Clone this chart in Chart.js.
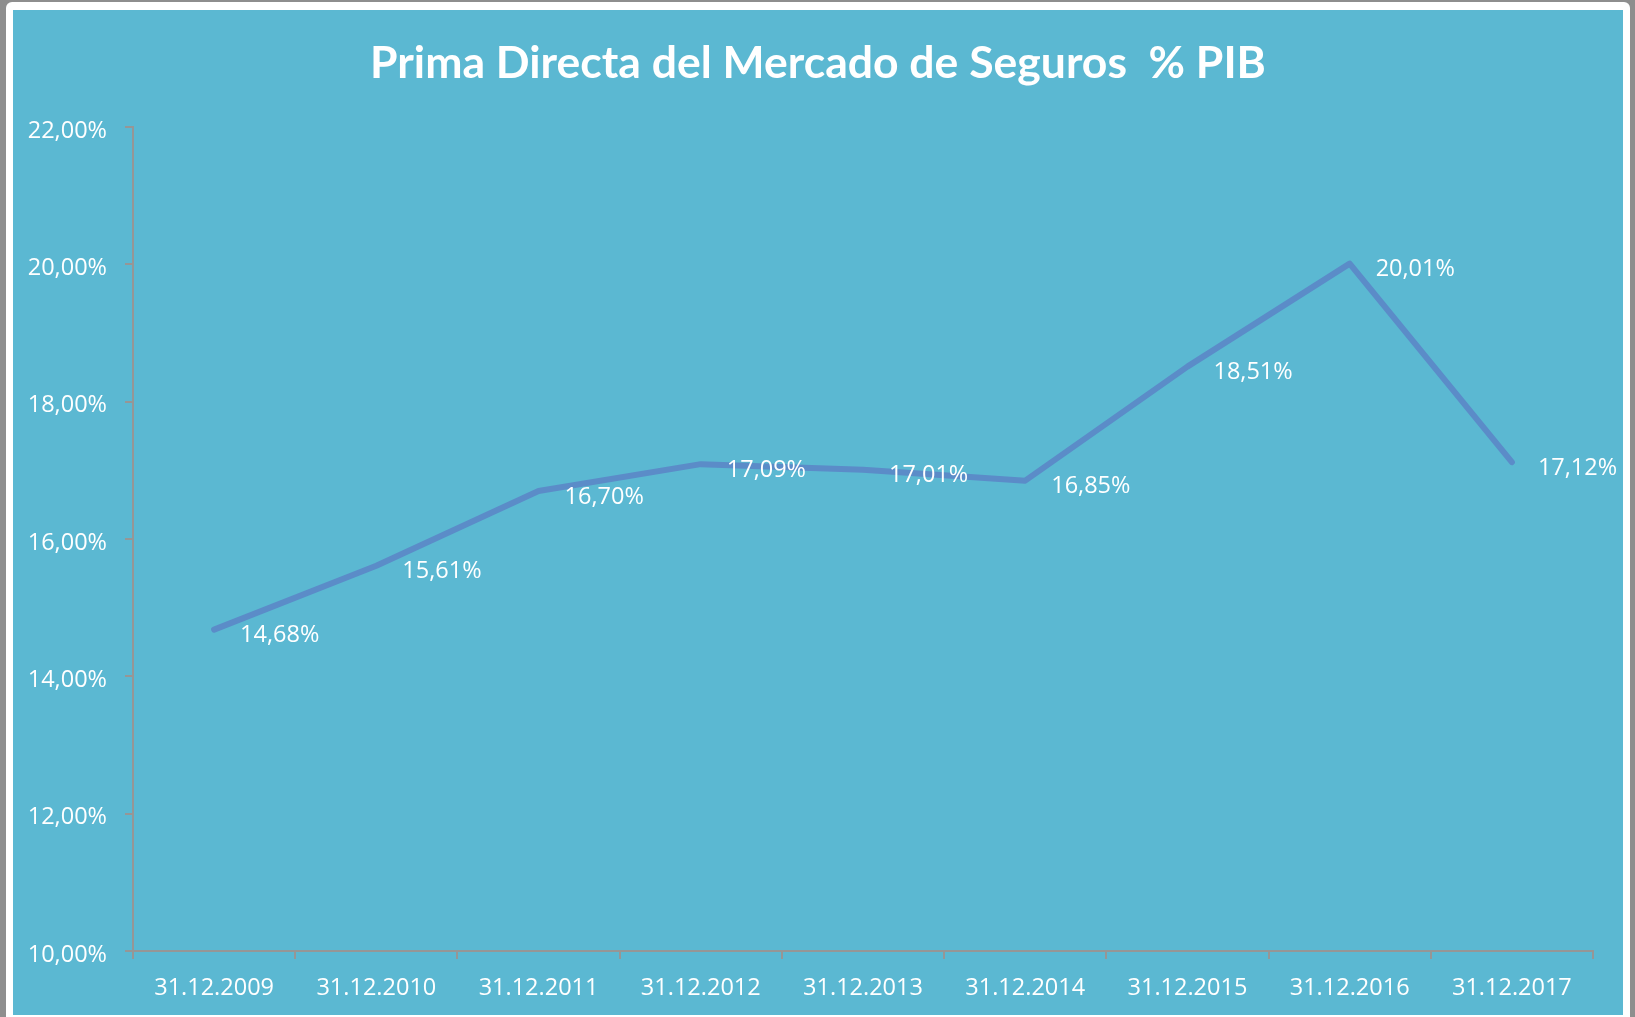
<!DOCTYPE html>
<html>
<head>
<meta charset="utf-8">
<title>Prima Directa del Mercado de Seguros % PIB</title>
<script src="https://cdn.jsdelivr.net/npm/chart.js@4.4.1/dist/chart.umd.min.js"></script>
<style>
    html, body { margin: 0; padding: 0; background: #8e8e8e; overflow: hidden; }
    #frame { position: absolute; left: 6px; top: 2px; width: 1624px; height: 1030px; background: #ffffff; border-radius: 6px; }
    #panel { position: absolute; left: 13px; top: 10px; width: 1610px; height: 1005px; background: #5bb8d2; }
    canvas { display: block; }
</style>
</head>
<body>
<div id="frame"></div>
<div id="panel"><canvas id="primaChart" width="1610" height="1005"></canvas></div>

<script>
// ==========================================
// DATA
// ==========================================
const categories = [
    '31.12.2009', '31.12.2010', '31.12.2011', '31.12.2012', '31.12.2013',
    '31.12.2014', '31.12.2015', '31.12.2016', '31.12.2017'
];
const primaPctPIB = [14.68, 15.61, 16.70, 17.09, 17.01, 16.85, 18.51, 20.01, 17.12];
const yMin = 10;
const yMax = 22;
const yStep = 2;
const chartTitle = 'Prima Directa del Mercado de Seguros  % PIB';

const axisGray = '#969696';
const labelFont = { family: '"Open Sans", "DejaVu Sans", sans-serif', size: 23.5 };

// 14.68 -> "14,68%"
function fmtPct(v) {
    return Number(v).toFixed(2).replace('.', ',') + '%';
}

// title centred on the whole canvas (built-in one centres on the padded box)
const centeredTitle = {
    id: 'centeredTitle',
    afterDraw(chart) {
        const ctx = chart.ctx;
        ctx.save();
        ctx.font = 'bold 44.5px Lato, "Open Sans", sans-serif';
        ctx.fillStyle = '#ffffff';
        ctx.textAlign = 'center';
        ctx.textBaseline = 'middle';
        ctx.fillText(chartTitle, chart.width / 2, 54);
        ctx.restore();
    }
};

// data labels to the right of each point (Excel style)
const pointLabels = {
    id: 'pointLabels',
    afterDatasetsDraw(chart) {
        const ctx = chart.ctx;
        const meta = chart.getDatasetMeta(0);
        ctx.save();
        ctx.font = labelFont.size + 'px ' + labelFont.family;
        ctx.fillStyle = '#ffffff';
        ctx.textAlign = 'left';
        ctx.textBaseline = 'middle';
        meta.data.forEach((pt, i) => {
            ctx.fillText(fmtPct(primaPctPIB[i]), pt.x + 26, pt.y + 6);
        });
        ctx.restore();
    }
};

const ctx = document.getElementById('primaChart').getContext('2d');
new Chart(ctx, {
    type: 'line',
    data: {
        labels: categories,
        datasets: [{
            label: '% PIB',
            data: primaPctPIB,
            borderColor: '#5b8cc8',
            borderWidth: 6,
            borderCapStyle: 'round',
            borderJoinStyle: 'round',
            pointRadius: 0,
            tension: 0,
            fill: false,
            clip: false
        }]
    },
    options: {
        responsive: false,
        animation: false,
        devicePixelRatio: 1,
        layout: { padding: { left: 0, right: 30, top: 117, bottom: 0 } },
        plugins: {
            legend: { display: false },
            tooltip: { enabled: false },
            title: { display: false }
        },
        scales: {
            x: {
                type: 'category',
                offset: true,
                grid: { offset: true, drawOnChartArea: false, drawTicks: true, tickLength: 8, color: axisGray, lineWidth: 2 },
                border: { display: true, color: axisGray, width: 2 },
                ticks: { color: '#ffffff', font: labelFont, padding: 15, maxRotation: 0, autoSkip: false },
                afterFit(scale) { scale.height = 64; }
            },
            y: {
                min: yMin,
                max: yMax,
                grid: { drawOnChartArea: false, drawTicks: true, tickLength: 8, color: axisGray, lineWidth: 2 },
                border: { display: true, color: axisGray, width: 2 },
                ticks: {
                    stepSize: yStep,
                    color: '#ffffff',
                    font: labelFont,
                    padding: 18,
                    labelOffset: 4,
                    callback: (v) => fmtPct(v)
                },
                afterFit(scale) { scale.width = 120; }
            }
        }
    },
    plugins: [pointLabels, centeredTitle]
});
</script>
</body>
</html>
